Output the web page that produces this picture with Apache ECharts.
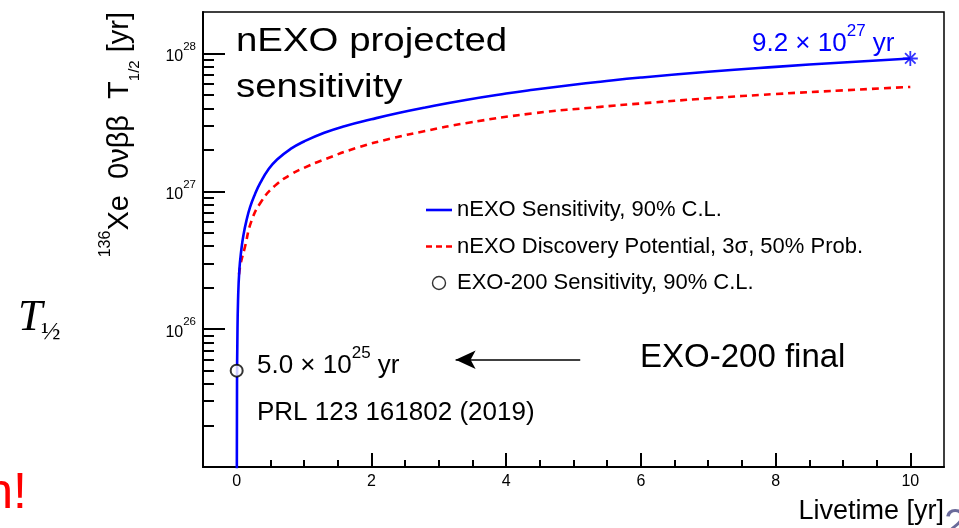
<!DOCTYPE html>
<html><head><meta charset="utf-8">
<script src="https://cdn.jsdelivr.net/npm/echarts@6/dist/echarts.min.js"></script>
<style>html,body{margin:0;padding:0;background:#fff}#c{width:959px;height:528px}</style>
</head><body><div id="c"></div>
<script>
// ---- data ----
const sensT = [0.0005, 0.005, 0.01, 0.02, 0.04, 0.07, 0.1, 0.144, 0.2, 0.27, 0.35, 0.47, 0.6, 0.8, 1.0, 1.3, 1.6, 2.0, 2.4, 2.8, 3.4, 4.0, 4.4, 5.0, 5.4, 6.0, 7.0, 8.0, 9.0, 10.0];
const sensV = [4e24, 4e25, 8e25, 1.6e26, 2.7e26, 3.8e26, 4.8e26, 6.1e26, 7.7e26, 9.5e26, 1.15e27, 1.44e27, 1.7e27, 2.03e27, 2.3e27, 2.66e27, 2.97e27, 3.33e27, 3.7e27, 4.06e27, 4.6e27, 5.12e27, 5.45e27, 5.93e27, 6.24e27, 6.69e27, 7.37e27, 8.0e27, 8.61e27, 9.2e27];
const discT = [0.035, 0.06, 0.12, 0.22, 0.37, 0.57, 0.81, 1.0, 1.31, 1.8, 2.3, 2.8, 3.4, 4.4, 5.4, 6.0, 7.0, 8.0, 9.0, 10.0];
const discV = [2.5e26, 3.0e26, 3.9e26, 6.1e26, 8.5e26, 1.1e27, 1.33e27, 1.48e27, 1.71e27, 2.08e27, 2.42e27, 2.74e27, 3.12e27, 3.68e27, 4.1e27, 4.34e27, 4.73e27, 5.08e27, 5.4e27, 5.72e27];
const exoT = [0];
const exoV = [5.0e25];
const finalT = [10];
const finalV = [9.2e27];
const arrowT = [5.1, 3.25];
const arrowV = [6e25, 6e25];
const xMajor = [0, 2, 4, 6, 8, 10];
const xMinor = [0, 0.5, 1, 1.5, 2, 2.5, 3, 3.5, 4, 4.5, 5, 5.5, 6, 6.5, 7, 7.5, 8, 8.5, 9, 9.5, 10];
const yMajor = [1e26, 1e27, 1e28];
const yMinor = [2e25, 3e25, 4e25, 5e25, 6e25, 7e25, 8e25, 9e25, 2e26, 3e26, 4e26, 5e26, 6e26, 7e26, 8e26, 9e26, 2e27, 3e27, 4e27, 5e27, 6e27, 7e27, 8e27, 9e27];
const seriesNames = ['nEXO Sensitivity, 90% C.L.', 'nEXO Discovery Potential, 3σ, 50% Prob.', 'EXO-200 Sensitivity, 90% C.L.'];

const FF = '"Liberation Sans", Arial, Helvetica, sans-serif';
const zip = (a, b) => a.map((t, i) => [t, b[i]]);

const chart = echarts.init(document.getElementById('c'), null, {renderer: 'canvas'});
const xBase = {type: 'value', min: -0.5, max: 10.5, gridIndex: 0, position: 'bottom', splitLine: {show: false}};
const yBase = {type: 'log', logBase: 10, min: 1e25, max: 2e28, gridIndex: 0, position: 'left', splitLine: {show: false}, minorTick: {show: false}};

chart.setOption({
  backgroundColor: '#ffffff',
  animation: false,
  grid: {left: 203, right: 15, top: 12, bottom: 61, show: true, borderColor: '#000', borderWidth: 1.5, containLabel: false},
  xAxis: [
    Object.assign({}, xBase, {
      axisLine: {show: true, onZero: false, lineStyle: {color: '#000', width: 2}},
      axisTick: {show: true, inside: true, length: 14, customValues: xMajor, lineStyle: {color: '#000', width: 2}},
      axisLabel: {show: true, customValues: xMajor, margin: 7, color: '#000', fontSize: 16, fontFamily: FF},
      name: 'Livetime [yr]', nameLocation: 'end', nameGap: 0,
      nameTextStyle: {color: '#000', fontSize: 27, fontFamily: FF, align: 'right', verticalAlign: 'top', padding: [31, 0, 0, 0]}
    }),
    Object.assign({}, xBase, {
      axisLine: {show: false, onZero: false},
      axisTick: {show: true, inside: true, length: 7, customValues: xMinor, lineStyle: {color: '#000', width: 2}},
      axisLabel: {show: false}
    })
  ],
  yAxis: [
    Object.assign({}, yBase, {
      axisLine: {show: true, onZero: false, lineStyle: {color: '#000', width: 2}},
      axisTick: {show: true, inside: true, length: 22, customValues: yMajor, lineStyle: {color: '#000', width: 2}},
      axisLabel: {
        show: true, customValues: yMajor, margin: 7, color: '#000',
        formatter: v => '{b|10}{s|' + Math.round(Math.log10(v)) + '}',
        rich: {
          b: {fontSize: 16, fontFamily: FF, color: '#000', lineHeight: 26, padding: [6, 0, 0, 0]},
          s: {fontSize: 11.5, fontFamily: FF, color: '#000', verticalAlign: 'top', lineHeight: 12}
        }
      }
    }),
    Object.assign({}, yBase, {
      axisLine: {show: false, onZero: false},
      axisTick: {show: true, inside: true, length: 11, customValues: yMinor, lineStyle: {color: '#000', width: 2}},
      axisLabel: {show: false}
    })
  ],
  legend: {
    orient: 'vertical', left: 421, top: 194, itemWidth: 26, itemHeight: 13, itemGap: 14.5,
    textStyle: {color: '#000', fontSize: 22, fontFamily: FF},
    data: [
      {name: seriesNames[0], icon: 'path://M0 0h26v2.6h-26z'},
      {name: seriesNames[1], icon: 'path://M0 0h6v2.6h-6zM10 0h6v2.6h-6zM20 0h6v2.6h-6z'},
      {name: seriesNames[2], icon: 'circle', itemStyle: {color: '#fff', borderColor: '#000', borderWidth: 1.4}}
    ]
  },
  series: [
    {
      name: seriesNames[0], type: 'line', xAxisIndex: 0, yAxisIndex: 0, data: zip(sensT, sensV),
      symbol: 'none', smooth: 0.5, clip: true, z: 4,
      lineStyle: {color: '#0000ff', width: 2.6}, itemStyle: {color: '#0000ff'}
    },
    {
      name: seriesNames[1], type: 'line', xAxisIndex: 0, yAxisIndex: 0, data: zip(discT, discV),
      symbol: 'none', smooth: 0.5, clip: true, z: 3,
      lineStyle: {color: '#ff0000', width: 2.6, type: [7, 5]}, itemStyle: {color: '#ff0000'}
    },
    {
      name: seriesNames[2], type: 'scatter', xAxisIndex: 0, yAxisIndex: 0, data: zip(exoT, exoV),
      symbol: 'emptyCircle', symbolSize: 12, z: 5,
      itemStyle: {color: '#000', borderColor: '#000', borderWidth: 1.4}
    },
    {
      name: 'final', type: 'scatter', xAxisIndex: 0, yAxisIndex: 0, data: zip(finalT, finalV),
      symbol: 'path://M5 0L5 10M0 5L10 5M1.5 1.5L8.5 8.5M8.5 1.5L1.5 8.5', symbolSize: 15, z: 6,
      itemStyle: {color: '#0000ff', borderColor: '#0000ff', borderWidth: 1.8}
    },
    {
      name: 'arrow', type: 'line', xAxisIndex: 0, yAxisIndex: 0, data: [], symbol: 'none',
      markLine: {
        silent: true, animation: false, symbol: ['none', 'arrow'], symbolSize: [14, 20],
        label: {show: false},
        lineStyle: {color: '#000', width: 1.6, type: 'solid'},
        data: [[{coord: [arrowT[0], arrowV[0]]}, {coord: [arrowT[1], arrowV[1]]}]]
      }
    }
  ],
  graphic: [
    {type: 'text', x: 236, y: 42, scaleX: 1.13, style: {text: 'nEXO projected', fill: '#000', font: '34px ' + FF, verticalAlign: 'middle', align: 'left'}},
    {type: 'text', x: 236, y: 88, scaleX: 1.13, style: {text: 'sensitivity', fill: '#000', font: '34px ' + FF, verticalAlign: 'middle', align: 'left'}},
    {type: 'text', x: 752, y: 40, style: {
      text: '{m|9.2 × 10}{s|27}{m| yr}', verticalAlign: 'middle', align: 'left',
      rich: {m: {fontSize: 26, fontFamily: FF, fill: '#0000ff', lineHeight: 34, verticalAlign: 'bottom'}, s: {fontSize: 17, fontFamily: FF, fill: '#0000ff', verticalAlign: 'top', lineHeight: 17}}
    }},
    {type: 'text', x: 257, y: 362, style: {
      text: '{m|5.0 × 10}{s|25}{m| yr}', verticalAlign: 'middle', align: 'left',
      rich: {m: {fontSize: 26, fontFamily: FF, fill: '#000', lineHeight: 34, verticalAlign: 'bottom'}, s: {fontSize: 17, fontFamily: FF, fill: '#000', verticalAlign: 'top', lineHeight: 17}}
    }},
    {type: 'text', x: 257, y: 413, style: {text: 'PRL 123 161802 (2019)', fill: '#000', font: '26px ' + FF, verticalAlign: 'middle', align: 'left'}},
    {type: 'text', x: 640, y: 358, style: {text: 'EXO-200 final', fill: '#000', font: '33px ' + FF, verticalAlign: 'middle', align: 'left'}},
    {type: 'text', x: 120, y: 12, rotation: Math.PI / 2, style: {
      text: '{p|136}{m|Xe  0νββ  T}{q|1/2}{m| [yr]}', align: 'right', verticalAlign: 'middle',
      rich: {
        m: {fontSize: 29, fontFamily: FF, fill: '#000', lineHeight: 44},
        p: {fontSize: 16, fontFamily: FF, fill: '#000', verticalAlign: 'top', lineHeight: 16},
        q: {fontSize: 15, fontFamily: FF, fill: '#000', verticalAlign: 'bottom', lineHeight: 15}
      }
    }},
    {type: 'text', x: 18, y: 318, style: {text: 'T', fill: '#000', font: 'italic 44px "Liberation Serif", "DejaVu Serif", serif', verticalAlign: 'middle', align: 'left'}},
    {type: 'text', x: 41, y: 332, style: {text: '½', fill: '#000', font: '26px "Liberation Serif", "DejaVu Serif", serif', verticalAlign: 'middle', align: 'left'}},
    {type: 'text', x: 27, y: 494, style: {text: 'n!', fill: '#ff0000', font: '50px ' + FF, verticalAlign: 'middle', align: 'right'}},
    {type: 'text', x: 944, y: 506, style: {text: '2', fill: '#6a6a9a', font: '40px ' + FF, verticalAlign: 'top', align: 'left'}}
  ]
});
</script>
</body></html>
